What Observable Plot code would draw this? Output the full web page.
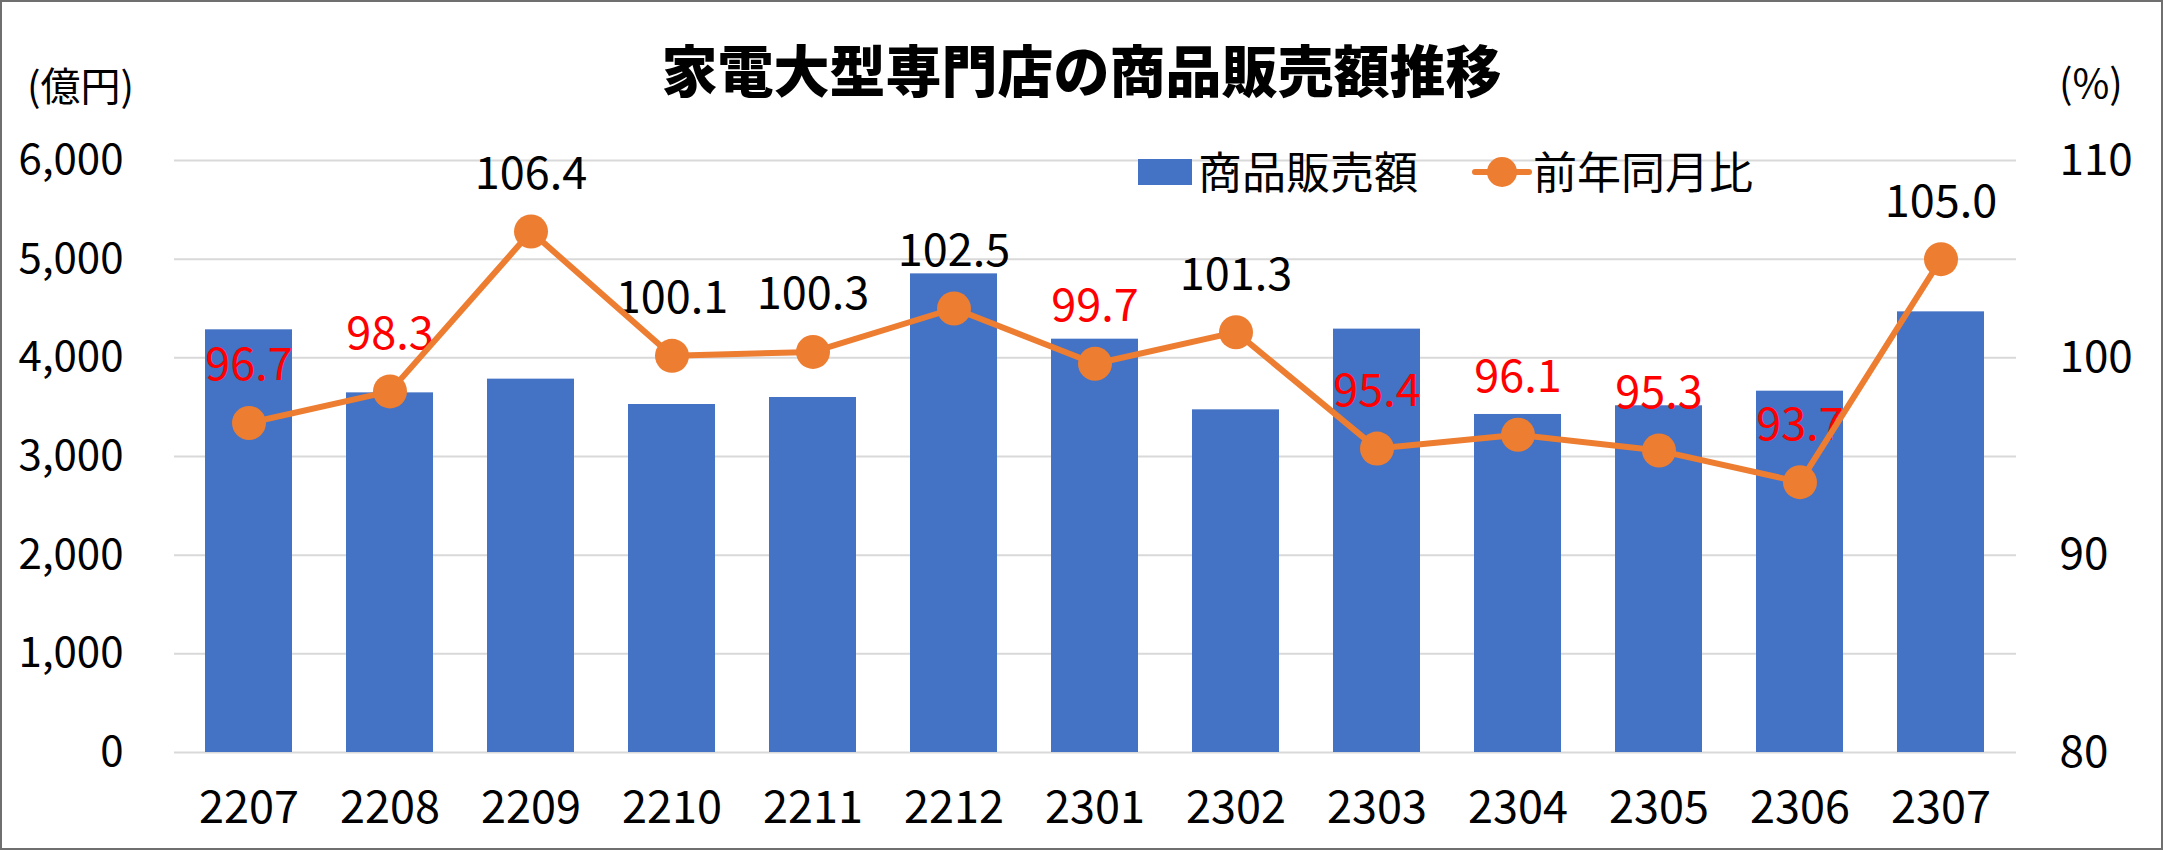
<!DOCTYPE html>
<html>
<head>
<meta charset="utf-8">
<script src="https://cdn.jsdelivr.net/npm/d3@7"></script>
<script src="https://cdn.jsdelivr.net/npm/@observablehq/plot@0.6"></script>
<style>
  html, body { margin: 0; padding: 0; background: #fff; }
  #wrap { position: relative; width: 2163px; height: 850px; overflow: hidden; font-family: "Noto Sans CJK JP", "Noto Sans", sans-serif; color: #000; }
  .ov { position: absolute; white-space: nowrap; }
  #border { position: absolute; left: 0; top: 0; width: 2163px; height: 850px; box-sizing: border-box; border: 2px solid #6f6f6f; pointer-events: none; }
</style>
</head>
<body>
<div id="wrap"></div>
<script>
// ---- data ----
const categories = ["2207","2208","2209","2210","2211","2212","2301","2302","2303","2304","2305","2306","2307"];
const sales = [4284, 3645, 3784, 3527, 3598, 4851, 4189, 3473, 4291, 3426, 3514, 3662, 4466];
const yoy = [96.7, 98.3, 106.4, 100.1, 100.3, 102.5, 99.7, 101.3, 95.4, 96.1, 95.3, 93.7, 105.0];
const leftTicks = [0, 1000, 2000, 3000, 4000, 5000, 6000];
const rightTicks = [80, 90, 100, 110];
const titleText = "家電大型専門店の商品販売額推移";
const leftUnit = "(億円)";
const rightUnit = "(%)";
const seriesNames = ["商品販売額", "前年同月比"];

// ---- helpers ----
const blue = "#4472C4";
const orange = "#ED7D31";
const rMin = 80, rMax = 110, lMax = 6000;
const toLeft = v => (v - rMin) / (rMax - rMin) * lMax;
const fromLeft = d => rMin + d / lMax * (rMax - rMin);

const rows = categories.map((c, i) => ({cat: c, sales: sales[i], yoy: yoy[i], yl: toLeft(yoy[i])}));

const chart = Plot.plot({
  width: 2163,
  height: 850,
  marginTop: 160,
  marginBottom: 98,
  marginLeft: 174,
  marginRight: 147,
  style: {fontFamily: "'Noto Sans CJK JP', 'Noto Sans', sans-serif", fontSize: "40px", background: "transparent", color: "#000", overflow: "visible"},
  x: {domain: categories, paddingInner: 0.38, paddingOuter: 0.19, axis: null},
  y: {domain: [0, lMax], axis: null},
  marks: [
    Plot.gridY(leftTicks, {stroke: "#d9d9d9", strokeOpacity: 1, strokeWidth: 2}),
    Plot.barY(rows, {x: "cat", y: "sales", fill: blue}),
    Plot.axisY(leftTicks, {anchor: "left", tickSize: 0, tickPadding: 51, tickFormat: d3.format(","), fontSize: 42, label: null}),
    Plot.axisY(rightTicks.map(toLeft), {anchor: "right", tickSize: 0, tickPadding: 43, tickFormat: d => String(Math.round(fromLeft(d))), fontSize: 44, label: null, textAnchor: "start"}),
    Plot.axisX({tickSize: 0, tickPadding: 39, fontSize: 45, label: null}),
    Plot.text(rows, {x: "cat", y: "yl", text: d => d.yoy.toFixed(1), dy: -57, fontSize: 45, fill: d => d.yoy < 100 ? "#FF0000" : "#000000"}),
    Plot.line(rows, {x: "cat", y: "yl", stroke: orange, strokeWidth: 6}),
    Plot.dot(rows, {x: "cat", y: "yl", r: 17, fill: orange, stroke: "none"})
  ]
});

const wrap = document.getElementById("wrap");
chart.style.position = "absolute";
chart.style.left = "0px";
chart.style.top = "0px";
wrap.appendChild(chart);

function addText(txt, left, top, size, weight, extra) {
  const d = document.createElement("div");
  d.className = "ov";
  d.textContent = txt;
  d.style.left = left + "px";
  d.style.top = top + "px";
  d.style.fontSize = size + "px";
  d.style.lineHeight = size + "px";
  d.style.fontWeight = weight;
  if (extra) Object.assign(d.style, extra);
  wrap.appendChild(d);
  return d;
}

// title (centered)
addText(titleText, 0, 40, 56, 900, {width: "2163px", textAlign: "center"});
// unit labels
addText(leftUnit, 27, 64, 40, 400);
addText(rightUnit, 2059, 61, 40, 400);

// legend
const sw = document.createElement("div");
Object.assign(sw.style, {position: "absolute", left: "1138px", top: "159px", width: "54px", height: "26px", background: blue});
wrap.appendChild(sw);
addText(seriesNames[0], 1198, 148, 44, 400);
const ln = document.createElement("div");
Object.assign(ln.style, {position: "absolute", left: "1472px", top: "169px", width: "60px", height: "6px", background: orange, borderRadius: "3px"});
wrap.appendChild(ln);
const mk = document.createElement("div");
Object.assign(mk.style, {position: "absolute", left: "1487px", top: "157px", width: "30px", height: "30px", background: orange, borderRadius: "50%"});
wrap.appendChild(mk);
addText(seriesNames[1], 1533, 148, 44, 400);

const b = document.createElement("div");
b.id = "border";
wrap.appendChild(b);
</script>
</body>
</html>
